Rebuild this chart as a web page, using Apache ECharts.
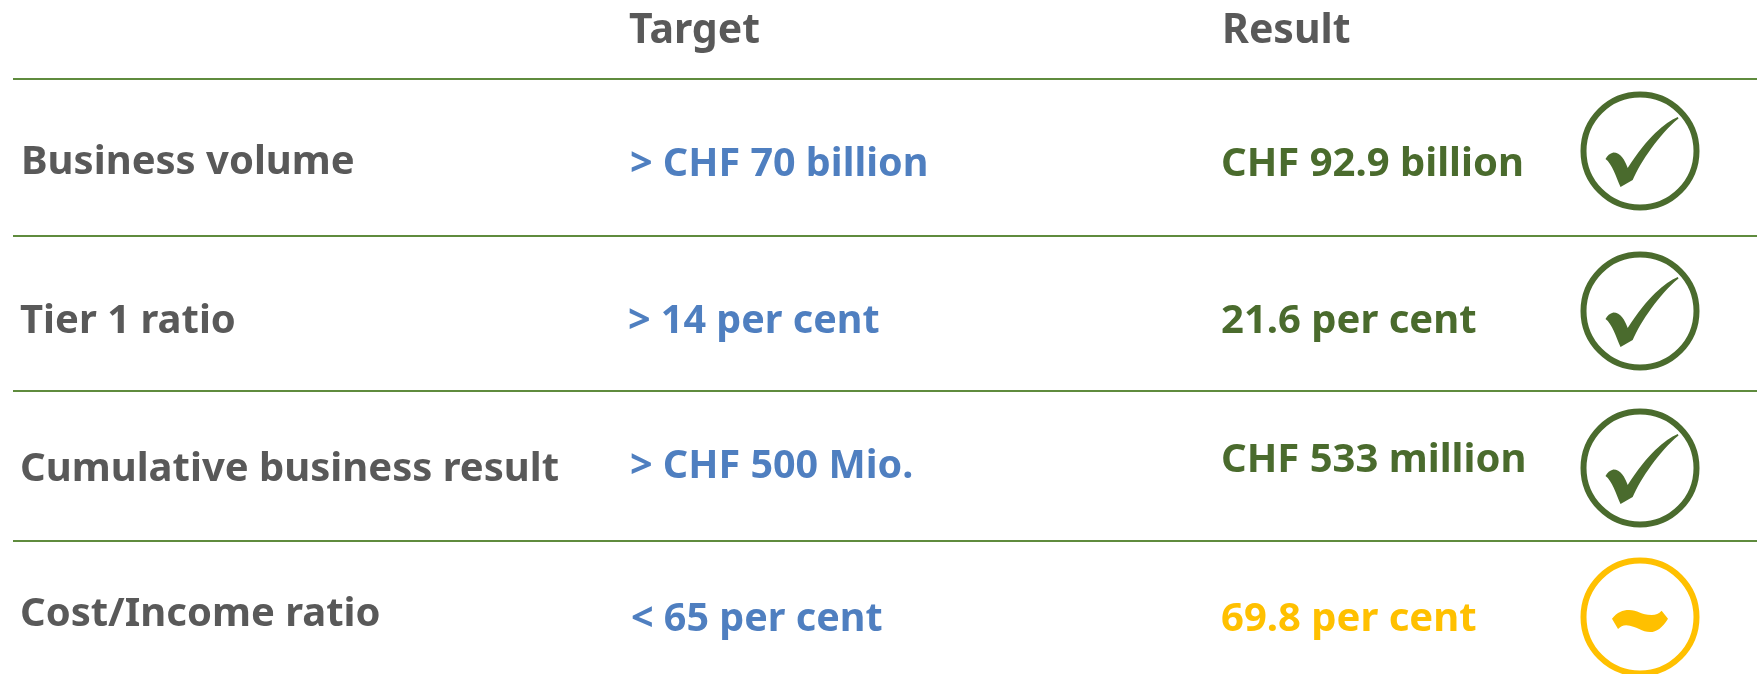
<!DOCTYPE html>
<html>
<head>
<meta charset="utf-8">
<title>Targets and results</title>
<style>
	html, body { margin: 0; padding: 0; background: #fff; }
	#chart { width: 1757px; height: 674px; }
</style>
<script src="https://cdn.jsdelivr.net/npm/echarts@6/dist/echarts.min.js"></script>
</head>
<body>
<div id="chart"></div>
<script>
// table content
const headers = ["Target", "Result"];
const measures = ["Business volume", "Tier 1 ratio", "Cumulative business result", "Cost/Income ratio"];
const targets = ["> CHF 70 billion", "> 14 per cent", "> CHF 500 Mio.", "< 65 per cent"];
const results = ["CHF 92.9 billion", "21.6 per cent", "CHF 533 million", "69.8 per cent"];
const statuses = ["ok", "ok", "ok", "near"];

// layout of the table, in page pixels (the axes run 1:1 with the page)
const headerPos = [[629, 31], [1222, 31]];
const measurePos = [[21, 163], [20, 322], [20, 470], [20, 615]];
const targetPos = [[630, 165], [628, 322], [630, 467], [631, 620]];
const resultPos = [[1221, 165], [1221, 322], [1221, 461], [1221, 620]];
const iconPos = [[1640, 151], [1640, 311], [1640, 468], [1640, 617]];
const ruleY = [79, 236, 391, 541];

const grey = "#595959";
const blue = "#4f7fc0";
const green = "#4a6b2d";
const amber = "#ffc000";
const ruleColor = "#5f8b3d";

const checkPath = "path://M202 0C165 17 118 58 62 148C54 125 42 103 22 103C12 105 5 113 0 122C18 135 30 175 42 203L76 183C98 130 150 50 204 4Z";
const tildePath = "path://M0 24C15 6 30 0 48 0C72 0 82 14 112 14C124 14 132 10 140 2L158 24C142 50 125 61 108 61C85 61 70 44 40 42C30 42 24 46 17 53Z";

function textSeries(texts, pos, colors, size) {
	return {
		type: "scatter",
		symbol: "circle",
		symbolSize: 0,
		silent: true,
		itemStyle: { opacity: 1 },
		data: texts.map((t, i) => ({
			value: pos[i],
			label: {
				show: true,
				position: "inside",
				align: "left",
				verticalAlign: "middle",
				formatter: t,
				color: colors[i] || colors[0],
				fontFamily: "Noto Sans",
				fontWeight: 700,
				fontSize: size,
			},
		})),
	};
}

const statusColor = (s) => (s === "ok" ? green : amber);

const series = [];
ruleY.forEach((y) => {
	series.push({
		type: "line",
		symbol: "none",
		silent: true,
		lineStyle: { color: ruleColor, width: 2 },
		data: [[13, y], [1757, y]],
	});
});
series.push(textSeries(headers, headerPos, [grey], 41));
series.push(textSeries(measures, measurePos, [grey], 40));
series.push(textSeries(targets, targetPos, [blue], 39.5));
series.push(textSeries(results, resultPos, statuses.map(statusColor), 40));
// ring
series.push({
	type: "scatter",
	symbol: "circle",
	symbolSize: 113,
	silent: true,
	data: statuses.map((s, i) => ({
		value: iconPos[i],
		itemStyle: { color: "transparent", borderColor: statusColor(s), borderWidth: 6, opacity: 1 },
	})),
});
// tick or tilde inside the ring
series.push({
	type: "scatter",
	silent: true,
	data: statuses.map((s, i) => ({
		value: iconPos[i],
		symbol: s === "ok" ? checkPath : tildePath,
		symbolSize: s === "ok" ? [73, 70] : [56, 22],
		symbolOffset: s === "ok" ? [2, 1] : [0, 4],
		itemStyle: { color: statusColor(s), opacity: 1 },
	})),
});

const myCharts = echarts.init(document.getElementById("chart"));
myCharts.setOption({
	animation: false,
	backgroundColor: "#fff",
	grid: { left: 0, right: 0, top: 0, bottom: 0 },
	xAxis: { type: "value", min: 0, max: 1757, show: false },
	yAxis: { type: "value", min: 0, max: 674, inverse: true, show: false },
	series: series,
});
</script>
</body>
</html>
